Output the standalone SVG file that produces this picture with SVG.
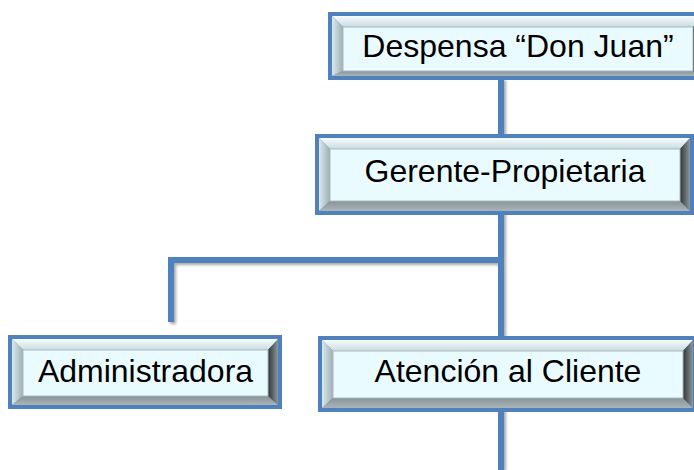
<svg xmlns="http://www.w3.org/2000/svg" width="694" height="470" viewBox="0 0 694 470">
<defs>
<filter id="sh" x="-20%" y="-20%" width="140%" height="140%">
<feGaussianBlur in="SourceAlpha" stdDeviation="1.5"/>
<feOffset dx="2" dy="2" result="b"/>
<feComponentTransfer><feFuncA type="linear" slope="0.35"/></feComponentTransfer>
<feMerge><feMergeNode/><feMergeNode in="SourceGraphic"/></feMerge>
</filter>
<linearGradient id="gT" x1="0" y1="0" x2="0" y2="1"><stop offset="0" stop-color="#F6FDFF"/><stop offset="1" stop-color="#C9DBDF"/></linearGradient>
<linearGradient id="gL" x1="0" y1="0" x2="1" y2="0"><stop offset="0" stop-color="#DAE9ED"/><stop offset="1" stop-color="#9EAFB3"/></linearGradient>
<linearGradient id="gB" x1="0" y1="0" x2="0" y2="1"><stop offset="0" stop-color="#879397"/><stop offset="1" stop-color="#A9B5B9"/></linearGradient>
<linearGradient id="gR" x1="0" y1="0" x2="1" y2="0"><stop offset="0" stop-color="#2E3538"/><stop offset="1" stop-color="#8D989C"/></linearGradient>
</defs>
<style>
.conn{fill:none;stroke:#4F81BD;stroke-width:6;stroke-linejoin:miter;stroke-linecap:butt}
.frame{fill:#4F81BD}
.bt{fill:url(#gT)}
.bl{fill:url(#gL)}
.bb{fill:url(#gB)}
.br{fill:url(#gR)}
.face{fill:#EAFBFF;stroke:#A9BABE;stroke-width:1}
.lbl{font-family:"Liberation Sans",Arial,sans-serif;font-size:32px;fill:#000;text-anchor:middle}
</style>
<rect width="694" height="470" fill="#fff"/>
<g id="connectors" filter="url(#sh)">
<path class="conn" d="M501,78 V470"/>
<path class="conn" d="M171,322 V260 H504"/>
</g>
<g id="node-despensa">
<rect class="frame" x="328" y="12" width="380" height="68"/>
<polygon class="bt" points="332,16 704,16 693,27 343,27"/>
<polygon class="bl" points="332,16 343,27 343,71 332,76"/>
<polygon class="bb" points="332,76 343,71 693,71 704,76"/>
<polygon class="br" points="704,16 704,76 693,71 693,27"/>
<rect class="face" x="343" y="27" width="350" height="44"/>
<text class="lbl" x="518" y="57">Despensa “Don Juan”</text>
</g>
<g id="node-gerente">
<rect class="frame" x="315" y="134" width="379" height="81"/>
<polygon class="bt" points="319,138 690,138 680,149 330,149"/>
<polygon class="bl" points="319,138 330,149 330,201 319,211"/>
<polygon class="bb" points="319,211 330,201 680,201 690,211"/>
<polygon class="br" points="690,138 690,211 680,201 680,149"/>
<rect class="face" x="330" y="149" width="350" height="52"/>
<text class="lbl" x="505" y="182">Gerente-Propietaria</text>
</g>
<g id="node-administradora">
<rect class="frame" x="8" y="335" width="274" height="74"/>
<polygon class="bt" points="12,339 278,339 268,350 23,350"/>
<polygon class="bl" points="12,339 23,350 23,396 12,405"/>
<polygon class="bb" points="12,405 23,396 268,396 278,405"/>
<polygon class="br" points="278,339 278,405 268,396 268,350"/>
<rect class="face" x="23" y="350" width="245" height="46"/>
<text class="lbl" x="145.5" y="382">Administradora</text>
</g>
<g id="node-atencion">
<rect class="frame" x="318" y="336" width="379" height="76"/>
<polygon class="bt" points="322,340 693,340 683,351 333,351"/>
<polygon class="bl" points="322,340 333,351 333,398 322,408"/>
<polygon class="bb" points="322,408 333,398 683,398 693,408"/>
<polygon class="br" points="693,340 693,408 683,398 683,351"/>
<rect class="face" x="333" y="351" width="350" height="47"/>
<text class="lbl" x="508" y="382">Atención al Cliente</text>
</g>
</svg>
